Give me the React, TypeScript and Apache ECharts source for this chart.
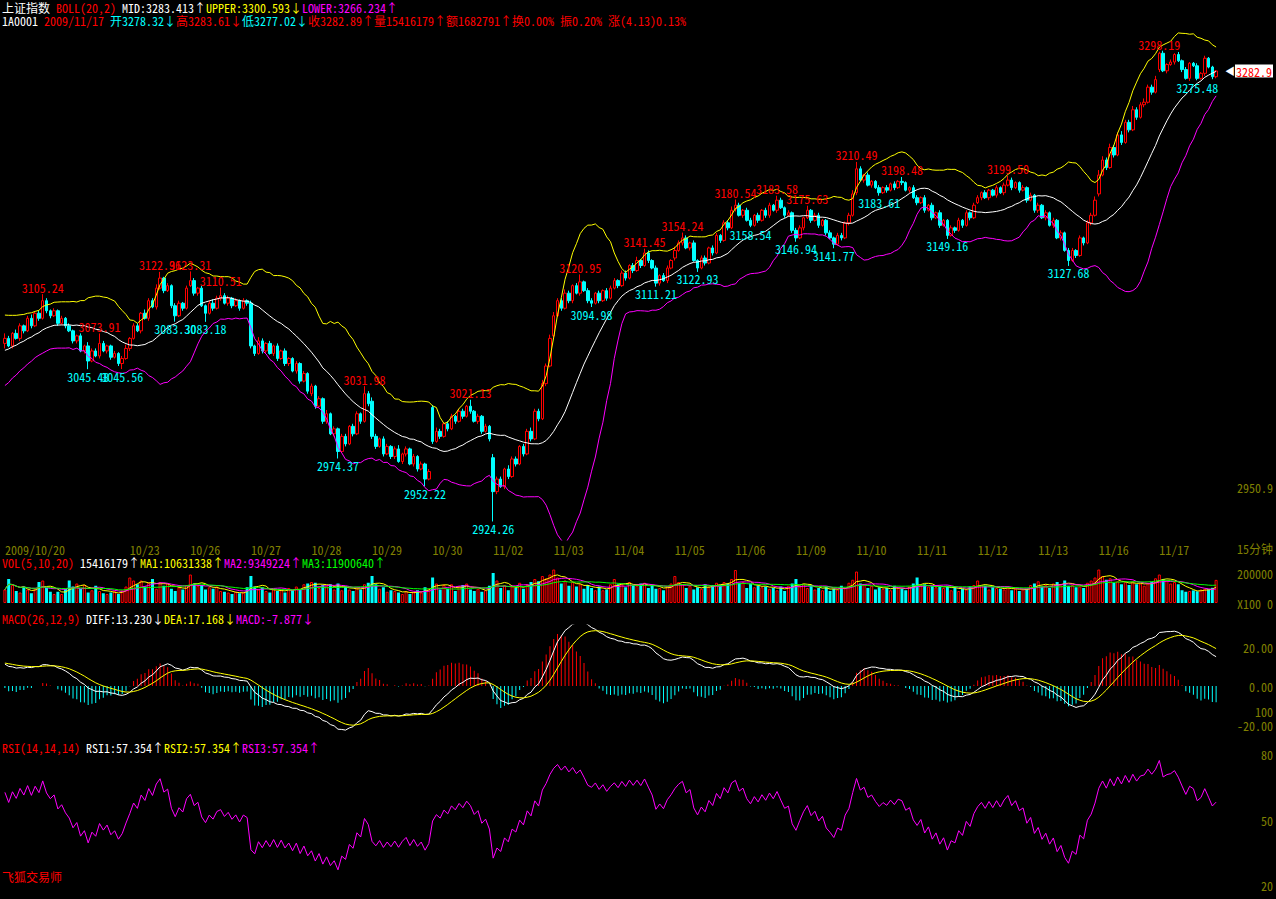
import React, { useEffect, useRef } from 'react';
import * as echarts from 'echarts';

const FONT = "'Noto Sans Mono CJK SC', 'Noto Sans CJK SC', 'DejaVu Sans Mono', monospace";
const RED = '#FF0000';
const CYAN = '#00FFFF';
const YEL = '#FFFF00';
const MAG = '#FF00FF';
const WHITE = '#FFFFFF';
const GREEN = '#00FF00';
const OLIVE = '#808000';

// ---------- data ----------
const firstDate = '2009/10/20';
const firstBar = [3066, 3070, 3062, 3074]; // open, close, low, high
const firstVolK = 9000;
const dayLabels = ['10/21', '10/22', '10/23', '10/26', '10/27', '10/28', '10/29', '10/30', '11/02', '11/03',
  '11/04', '11/05', '11/06', '11/09', '11/10', '11/11', '11/12', '11/13', '11/16', '11/17'];
const dayOpens = [3070, 3080, 3062, 3112, 3098, 3026, 3020, 3015, 2975, 3072,
  3110, 3134, 3173, 3156, 3186, 3182, 3178, 3172, 3185, 3284];
const dayCloses = [
  [3064, 3074, 3070, 3080, 3076, 3086, 3080, 3090, 3086, 3100, 3092, 3088, 3092, 3082, 3086, 3080],
  [3076, 3068, 3072, 3060, 3064, 3052, 3060, 3056, 3066, 3060, 3064, 3055, 3058, 3050, 3054, 3062],
  [3070, 3080, 3076, 3090, 3086, 3100, 3095, 3110, 3118, 3108, 3112, 3096, 3088, 3098, 3094, 3110],
  [3116, 3106, 3110, 3096, 3090, 3098, 3094, 3102, 3104, 3098, 3102, 3096, 3100, 3094, 3100, 3098],
  [3064, 3058, 3068, 3060, 3066, 3058, 3064, 3054, 3060, 3050, 3054, 3044, 3050, 3036, 3042, 3028],
  [3032, 3016, 3022, 3004, 3010, 2994, 2998, 2980, 2992, 2986, 3000, 2994, 3010, 3004, 3026, 3018],
  [2992, 2984, 2990, 2978, 2984, 2976, 2982, 2972, 2978, 2982, 2970, 2976, 2966, 2970, 2958, 2964],
  [2988, 2996, 2992, 3002, 2998, 3008, 3004, 3012, 3008, 3016, 3012, 3004, 3008, 2996, 3000, 2990],
  [2948, 2958, 2952, 2966, 2960, 2974, 2970, 2984, 2978, 2996, 2990, 3012, 3006, 3034, 3048, 3070],
  [3088, 3100, 3094, 3106, 3100, 3112, 3106, 3115, 3108, 3100, 3098, 3106, 3100, 3108, 3102, 3110],
  [3116, 3112, 3122, 3118, 3128, 3124, 3132, 3128, 3138, 3132, 3126, 3114, 3120, 3116, 3126, 3132],
  [3140, 3146, 3150, 3142, 3146, 3132, 3126, 3134, 3130, 3142, 3138, 3152, 3148, 3162, 3158, 3172],
  [3176, 3168, 3172, 3164, 3160, 3168, 3164, 3172, 3168, 3176, 3172, 3180, 3174, 3168, 3170, 3156],
  [3150, 3158, 3166, 3172, 3164, 3168, 3160, 3164, 3154, 3150, 3145, 3152, 3150, 3162, 3168, 3185],
  [3205, 3196, 3200, 3192, 3195, 3190, 3186, 3190, 3188, 3193, 3190, 3195, 3194, 3188, 3190, 3182],
  [3178, 3182, 3172, 3176, 3166, 3170, 3160, 3164, 3152, 3158, 3156, 3164, 3160, 3170, 3166, 3176],
  [3182, 3186, 3182, 3188, 3184, 3190, 3186, 3192, 3196, 3190, 3194, 3188, 3190, 3180, 3184, 3172],
  [3176, 3166, 3170, 3160, 3164, 3150, 3154, 3140, 3132, 3140, 3136, 3150, 3146, 3162, 3168, 3180],
  [3200, 3212, 3206, 3222, 3216, 3232, 3226, 3242, 3236, 3252, 3246, 3256, 3258, 3270, 3266, 3276],
  [3297, 3283, 3288, 3290, 3296, 3291, 3284, 3277, 3289, 3287, 3277, 3281, 3293, 3286, 3278.32, 3282.89],
];
const dayWickUp = [
  [2, 1, 3, 2, 1, 2, 3, 1, 2, 3, 2, 1, 2, 1, 2, 1],
  [2, 1, 1, 2, 1, 3, 2, 2, 1, 2, 1, 1, 2, 1, 2, 3],
  [1, 2, 2, 1, 3, 2, 2, 3, 2, 1, 2, 1, 2, 2, 1, 2],
  [3, 2, 1, 2, 1, 2, 3, 2, 1, 2, 2, 1, 2, 1, 2, 1],
  [2, 1, 3, 2, 1, 2, 1, 2, 1, 2, 1, 1, 2, 1, 2, 1],
  [2, 1, 2, 1, 3, 1, 2, 1, 2, 2, 1, 2, 2, 1, 2, 2],
  [3, 2, 1, 2, 2, 1, 2, 3, 1, 2, 1, 2, 1, 2, 1, 2],
  [2, 3, 2, 1, 2, 2, 1, 2, 2, 1, 2, 1, 2, 1, 2, 1],
  [3, 2, 2, 1, 3, 2, 2, 1, 2, 2, 3, 2, 2, 3, 2, 3],
  [3, 2, 2, 3, 2, 1, 2, 2, 1, 2, 2, 1, 2, 1, 2, 2],
  [2, 1, 2, 2, 1, 2, 3, 1, 2, 2, 1, 2, 1, 2, 2, 1],
  [3, 2, 1, 2, 1, 2, 1, 2, 2, 1, 2, 2, 1, 2, 2, 3],
  [2, 2, 1, 2, 2, 1, 2, 1, 2, 2, 1, 2, 2, 1, 2, 1],
  [2, 2, 1, 2, 1, 2, 2, 1, 1, 2, 1, 2, 2, 1, 2, 3],
  [2, 2, 1, 2, 1, 1, 2, 1, 2, 1, 2, 1, 2, 1, 1, 2],
  [2, 1, 2, 1, 2, 1, 2, 1, 1, 2, 1, 2, 1, 2, 1, 2],
  [2, 1, 2, 1, 1, 2, 1, 2, 1, 2, 1, 1, 2, 1, 2, 1],
  [2, 1, 2, 1, 2, 1, 2, 1, 2, 2, 1, 2, 1, 2, 2, 3],
  [4, 3, 2, 3, 2, 2, 3, 2, 2, 3, 2, 2, 3, 2, 2, 3],
  [2, 2, 1, 2, 1, 2, 1, 2, 1, 1, 2, 1, 2, 1, 1, 0.72],
];
const dayWickDn = [
  [1, 2, 1, 2, 2, 1, 2, 1, 2, 1, 2, 2, 1, 2, 1, 2],
  [1, 2, 2, 1, 2, 2, 1, 1, 2, 1, 2, 2, 1, 2, 2, 1],
  [2, 1, 1, 2, 1, 2, 1, 2, 1, 2, 1, 2, 2, 1, 2, 1],
  [1, 2, 2, 1, 2, 1, 2, 1, 2, 1, 2, 2, 1, 2, 1, 2],
  [2, 2, 1, 2, 2, 1, 2, 2, 1, 2, 2, 1, 2, 2, 1, 2],
  [2, 2, 1, 2, 2, 1, 2, 2, 1, 2, 1, 2, 1, 2, 1, 2],
  [2, 2, 1, 2, 1, 2, 2, 1, 2, 2, 1, 2, 2, 1, 2, 1],
  [2, 1, 2, 1, 2, 1, 2, 1, 2, 1, 2, 1, 2, 2, 1, 2],
  [3, 2, 1, 2, 2, 1, 2, 1, 2, 1, 2, 1, 2, 1, 2, 1],
  [2, 1, 2, 1, 2, 2, 1, 2, 1, 2, 2, 1, 2, 1, 2, 1],
  [1, 2, 1, 2, 1, 2, 1, 2, 1, 2, 1, 2, 2, 1, 2, 1],
  [2, 1, 2, 1, 2, 1, 2, 1, 2, 1, 2, 1, 2, 1, 2, 1],
  [2, 1, 2, 1, 2, 1, 2, 1, 2, 2, 1, 2, 1, 2, 1, 2],
  [2, 1, 2, 1, 2, 1, 2, 1, 2, 1, 2, 1, 2, 1, 2, 1],
  [2, 1, 2, 1, 2, 1, 2, 1, 2, 1, 2, 1, 2, 1, 2, 1],
  [2, 1, 2, 1, 2, 1, 2, 1, 2, 1, 2, 1, 2, 1, 2, 1],
  [1, 2, 1, 2, 1, 2, 1, 2, 1, 2, 1, 2, 1, 2, 1, 2],
  [2, 1, 2, 1, 2, 1, 2, 1, 2, 1, 2, 1, 2, 1, 2, 1],
  [2, 1, 2, 1, 2, 1, 2, 1, 2, 1, 2, 1, 2, 1, 2, 1],
  [2, 1, 2, 1, 2, 1, 2, 1, 2, 1, 2, 1, 2, 1, 2, 1.3],
];
// volume in thousands of shares
const dayVolK = [
  [16000, 12000, 8000, 7000, 11000, 9000, 6500, 9500, 14000, 15000, 10000, 7500, 6000, 7500, 6000, 9500],
  [15000, 11000, 13000, 9500, 12000, 7000, 8500, 11500, 8000, 6500, 6000, 7000, 8000, 6000, 8500, 11000],
  [17000, 15000, 12500, 15000, 11000, 13500, 16000, 9500, 14000, 11500, 13000, 9500, 8000, 10500, 9000, 12000],
  [19000, 13000, 11500, 12000, 9000, 10500, 9500, 11000, 8000, 7500, 7000, 6000, 7500, 6500, 7000, 10500],
  [18000, 11000, 9000, 10500, 8000, 7000, 9500, 8000, 9000, 7000, 10000, 8500, 11000, 9000, 12500, 13000],
  [14000, 13500, 10000, 12000, 11500, 12500, 9000, 13000, 8500, 11000, 9000, 8000, 10500, 9000, 12500, 13500],
  [18000, 12500, 9500, 10500, 7500, 8500, 8000, 7000, 6000, 8000, 6000, 7500, 8500, 7000, 10500, 9500],
  [17000, 13000, 9000, 12000, 9500, 12500, 8000, 11000, 12000, 13000, 9000, 8000, 9500, 7500, 8500, 11500],
  [20000, 15000, 10000, 12000, 8500, 11000, 10000, 13500, 9500, 12500, 14000, 16000, 14500, 18000, 16500, 19000],
  [23000, 17000, 13000, 15000, 11500, 14000, 11000, 12500, 9500, 12000, 10000, 8500, 11000, 8500, 9000, 12500],
  [16000, 12500, 13000, 10500, 14000, 12000, 11500, 13000, 13500, 10000, 12000, 9500, 10000, 8500, 11000, 13000],
  [18000, 14000, 12500, 10000, 11500, 9000, 10500, 9500, 12500, 11000, 12000, 13500, 12000, 14000, 13000, 16000],
  [22000, 13500, 14000, 10000, 13000, 10500, 11500, 10500, 11000, 9500, 10000, 8500, 11000, 8000, 11500, 13000],
  [16000, 11000, 12500, 10000, 12000, 9000, 10000, 8500, 11000, 8000, 9500, 9000, 11500, 10000, 13500, 15500],
  [21000, 13000, 12500, 10000, 11500, 9000, 10500, 9500, 10000, 8500, 11500, 10000, 9500, 8500, 11000, 13000],
  [17000, 12000, 12500, 11000, 11500, 10500, 11000, 10000, 11500, 8500, 10500, 8000, 9500, 9000, 11000, 12000],
  [15000, 12000, 11500, 9000, 10500, 10000, 9500, 9000, 11000, 8500, 9500, 8000, 9000, 9500, 12000, 13000],
  [14500, 11000, 12000, 10000, 13000, 14000, 12500, 15000, 11500, 12000, 10500, 11000, 10000, 13500, 15000, 17000],
  [24000, 18000, 15500, 16500, 13500, 14500, 12500, 14000, 12000, 14500, 12500, 13000, 11500, 13000, 14000, 16500],
  [19000, 16000, 15000, 13000, 14000, 12500, 8500, 7500, 8000, 8400, 7800, 9000, 9500, 9200, 10100, 15416.179],
];
// closes before the visible window (only used to warm up the indicators)
const warmupCloses = [3030, 3026, 3034, 3030, 3038, 3034, 3042, 3038, 3046, 3042, 3050, 3046, 3054,
  3050, 3058, 3054, 3062, 3066, 3072, 3078, 3084, 3080, 3074, 3078, 3066];
const macdSeed = { ema12: 3036, ema26: 3022, dea: 12 };
const rsiSeed = { up: 4.2, abs: 5 };

// labelled extremes: [bar index, value]
const highMarks: [number, number][] = [
  [10, 3105.24], [25, 3073.91], [41, 3122.96], [49, 3123.31], [57, 3110.51], [95, 3031.98], [123, 3021.13],
  [152, 3120.95], [169, 3141.45], [179, 3154.24], [193, 3180.54], [204, 3183.58], [212, 3175.63],
  [225, 3210.49], [237, 3198.48], [265, 3199.50], [305, 3298.19],
];
const lowMarks: [number, number][] = [
  [22, 3045.48], [31, 3045.56], [45, 3083.30], [53, 3083.18], [88, 2974.37], [111, 2952.22], [129, 2924.26],
  [155, 3094.98], [172, 3111.21], [183, 3122.93], [197, 3158.54], [209, 3146.94], [219, 3141.77],
  [231, 3183.61], [249, 3149.16], [281, 3127.68], [315, 3275.48],
];

const lastPrice = 3282.9;
const priceAxisLabels = [2950.9, 3282.9];
const volAxisLabels = [0, 20000000];
const macdAxisLabels = [-20, 0, 20];
const rsiAxisLabels = [20, 50, 80, 100];

const hdr1 = '{w|上证指数} {r|BOLL(20,2)} {w|MID:3283.413↑}{y|UPPER:3300.593↓}{m|LOWER:3266.234↑}';
const hdr2 = '{w|1A0001} {r|2009/11/17} {c|开3278.32↓}{r|高3283.61↓}{c|低3277.02↓}{r|收3282.89↑}{r|量15416179↑}{r|额1682791↑}{r|换0.00%} {r|振0.20%} {r|涨(4.13)0.13%}';
const hdrVol = '{r|VOL(5,10,20)} {w|15416179↑}{y|MA1:10631338↑}{m|MA2:9349224↑}{g|MA3:11900640↑}';
const hdrMacd = '{r|MACD(26,12,9)} {w|DIFF:13.230↓}{y|DEA:17.168↓}{m|MACD:-7.877↓}';
const hdrRsi = '{r|RSI(14,14,14)} {w|RSI1:57.354↑}{y|RSI2:57.354↑}{m|RSI3:57.354↑}';

// ---------- derived tables ----------
function build() {
  const closes: number[] = [firstBar[1]];
  const opens: number[] = [firstBar[0]];
  const lows: number[] = [firstBar[2]];
  const highs: number[] = [firstBar[3]];
  const vols: number[] = [firstVolK * 1000];
  const cats: string[] = [firstDate];
  dayCloses.forEach((day, d) => {
    day.forEach((c, j) => {
      const o = j === 0 ? dayOpens[d] : day[j - 1];
      opens.push(o);
      closes.push(c);
      highs.push(Math.max(o, c) + dayWickUp[d][j]);
      lows.push(Math.min(o, c) - dayWickDn[d][j]);
      vols.push(dayVolK[d][j] * 1000);
      cats.push(dayLabels[d]);
    });
  });
  highMarks.forEach(([i, v]) => { highs[i] = v; });
  lowMarks.forEach(([i, v]) => { lows[i] = v; });
  const n = closes.length;
  const all = warmupCloses.concat(closes);
  const off = warmupCloses.length;
  const mid: number[] = [], up: number[] = [], lo: number[] = [];
  for (let i = 0; i < n; i++) {
    const k = i + off;
    const w = all.slice(Math.max(0, k - 19), k + 1);
    const m = w.reduce((a, b) => a + b, 0) / w.length;
    const sd = Math.sqrt(w.reduce((a, b) => a + (b - m) * (b - m), 0) / w.length);
    mid.push(m); up.push(m + 2 * sd); lo.push(m - 2 * sd);
  }
  let e12 = macdSeed.ema12, e26 = macdSeed.ema26, dea = macdSeed.dea;
  let au = rsiSeed.up, aa = rsiSeed.abs;
  const diffs: number[] = [], deas: number[] = [], hist: number[] = [], rsi: number[] = [];
  for (let k = 0; k < all.length; k++) {
    const c = all[k];
    e12 = (2 * c + 11 * e12) / 13;
    e26 = (2 * c + 25 * e26) / 27;
    const df = e12 - e26;
    dea = (2 * df + 8 * dea) / 10;
    if (k > 0) {
      const dd = c - all[k - 1];
      au = (Math.max(dd, 0) + 13 * au) / 14;
      aa = (Math.abs(dd) + 13 * aa) / 14;
    }
    if (k >= off) {
      diffs.push(df); deas.push(dea); hist.push(2 * (df - dea));
      rsi.push(aa === 0 ? 50 : (au / aa) * 100);
    }
  }
  const ma = (p: number) => vols.map((_, i) => {
    const w = vols.slice(Math.max(0, i - p + 1), i + 1);
    return w.reduce((a, b) => a + b, 0) / w.length;
  });
  return { n, opens, closes, highs, lows, vols, cats, mid, up, lo, diffs, deas, hist, rsi, ma5: ma(5), ma10: ma(10), ma20: ma(20) };
}

function makeOption() {
  const t = build();
  const gridL = 3, gridR = 58;
  const grids = [
    { left: gridL, right: gridR, top: 30, height: 510 },
    { left: gridL, right: gridR, top: 570, height: 33 },
    { left: gridL, right: gridR, top: 625, height: 110 },
    { left: gridL, right: gridR, top: 711, height: 184 },
  ];
  const xAxis = grids.map((_, gi) => ({
    type: 'category', gridIndex: gi, data: t.cats, boundaryGap: true,
    axisLine: { show: false }, axisTick: { show: false }, splitLine: { show: false },
    axisLabel: gi === 0 ? {
      show: true, color: OLIVE, fontFamily: FONT, fontSize: 12, margin: 3, align: 'left',
      interval: (idx: number) => idx === 0 || (idx > 17 && (idx - 1) % 16 === 0),
    } : { show: false },
  }));
  const yBase = {
    type: 'value', position: 'right', splitLine: { show: false }, axisLine: { show: false }, axisTick: { show: false },
  };
  const lab = { color: OLIVE, fontFamily: FONT, fontSize: 12, lineHeight: 12, margin: 55, align: 'right', showMinLabel: true, showMaxLabel: true };
  const yAxis = [
    {
      ...yBase, gridIndex: 0, min: 2909.5, max: 3315.5,
      axisLabel: {
        ...lab, customValues: priceAxisLabels,
        formatter: (v: number) => Math.abs(v - lastPrice) < 0.01 ? '{a|◀}{t|' + v.toFixed(1) + '}' : v.toFixed(1),
        rich: {
          a: { color: WHITE, fontFamily: FONT, fontSize: 10, lineHeight: 12 },
          t: { color: RED, backgroundColor: WHITE, fontFamily: FONT, fontSize: 12, lineHeight: 12, padding: [1, 1, 0, 1] },
        },
      },
    },
    {
      ...yBase, gridIndex: 1, min: 0, max: 22000000,
      axisLabel: { ...lab, customValues: volAxisLabels, formatter: (v: number) => v === 0 ? 'X100 0' : String(v / 100) },
    },
    {
      ...yBase, gridIndex: 2, min: -25.1, max: 31.28,
      axisLabel: { ...lab, customValues: macdAxisLabels, formatter: (v: number) => v.toFixed(2) },
    },
    {
      ...yBase, gridIndex: 3, min: 15.87, max: 100,
      axisLabel: { ...lab, customValues: rsiAxisLabels, formatter: (v: number) => String(v) },
    },
  ];
  const line = (data: number[], color: string, xi: number, z = 3) => ({
    type: 'line', xAxisIndex: xi, yAxisIndex: xi, data, symbol: 'none', showSymbol: false, silent: true, z,
    lineStyle: { color, width: 1 },
  });
  const markLabel = { fontFamily: FONT, fontSize: 12, lineHeight: 12 };
  const series: any[] = [
    {
      type: 'candlestick', xAxisIndex: 0, yAxisIndex: 0, barWidth: 3, silent: true, z: 2,
      data: t.opens.map((o, i) => [o, t.closes[i], t.lows[i], t.highs[i]]),
      itemStyle: { color: '#000000', color0: CYAN, borderColor: RED, borderColor0: CYAN, borderWidth: 1 },
      markPoint: {
        symbol: 'circle', symbolSize: 0, silent: true, animation: false,
        data: [
          ...highMarks.map(([i, v]) => ({ coord: [i, v], value: v, label: { ...markLabel, show: true, position: 'top', distance: 1, color: RED, formatter: v.toFixed(2) } })),
          ...lowMarks.map(([i, v]) => ({ coord: [i, v], value: v, label: { ...markLabel, show: true, position: 'bottom', distance: 1, color: CYAN, formatter: v.toFixed(2) } })),
        ],
      },
    },
    line(t.mid, WHITE, 0),
    line(t.up, YEL, 0),
    line(t.lo, MAG, 0),
    {
      type: 'bar', xAxisIndex: 1, yAxisIndex: 1, barWidth: 3, silent: true,
      data: t.vols.map((v, i) => ({
        value: v,
        itemStyle: t.closes[i] >= t.opens[i]
          ? { color: '#000000', borderColor: RED, borderWidth: 1 }
          : { color: CYAN },
      })),
    },
    line(t.ma5, YEL, 1),
    line(t.ma10, MAG, 1),
    line(t.ma20, GREEN, 1),
    {
      type: 'bar', xAxisIndex: 2, yAxisIndex: 2, barWidth: 1, silent: true,
      data: t.hist.map((v) => ({ value: v, itemStyle: { color: v >= 0 ? RED : CYAN } })),
    },
    line(t.diffs, WHITE, 2),
    line(t.deas, YEL, 2),
    // RSI1, RSI2 and RSI3 share the same period, so only the top (magenta) line is visible
    line(t.rsi, MAG, 3),
  ];
  const rs = (fill: string) => ({ fill, fontFamily: FONT, fontSize: 12, lineHeight: 12 });
  const rich = { w: rs(WHITE), r: rs(RED), y: rs(YEL), m: rs(MAG), c: rs(CYAN), g: rs(GREEN) };
  const txt = (text: string, x: number, y: number, fill = WHITE) => ({
    type: 'text', x, y, silent: true,
    style: { text, fill, fontFamily: FONT, fontSize: 12, lineHeight: 12, verticalAlign: 'middle', align: 'left', rich },
  });
  return {
    animation: false,
    backgroundColor: '#000000',
    grid: grids,
    xAxis, yAxis, series,
    graphic: [
      txt(hdr1, 2, 7),
      txt(hdr2, 2, 20),
      txt(hdrVol, 2, 562),
      txt(hdrMacd, 2, 618),
      txt(hdrRsi, 2, 747),
      txt('15分钟', 1237, 548, OLIVE),
      txt('飞狐交易师', 2, 876, RED),
    ],
  };
}

export default function App() {
  const ref = useRef<HTMLDivElement>(null);
  useEffect(() => {
    const chart = echarts.init(ref.current as HTMLDivElement, null, { renderer: 'svg' });
    chart.setOption(makeOption() as any);
    return () => chart.dispose();
  }, []);
  return (
    <div
      ref={ref}
      style={{ position: 'fixed', left: 0, top: 0, width: 1276, height: 899, background: '#000000' }}
    />
  );
}
